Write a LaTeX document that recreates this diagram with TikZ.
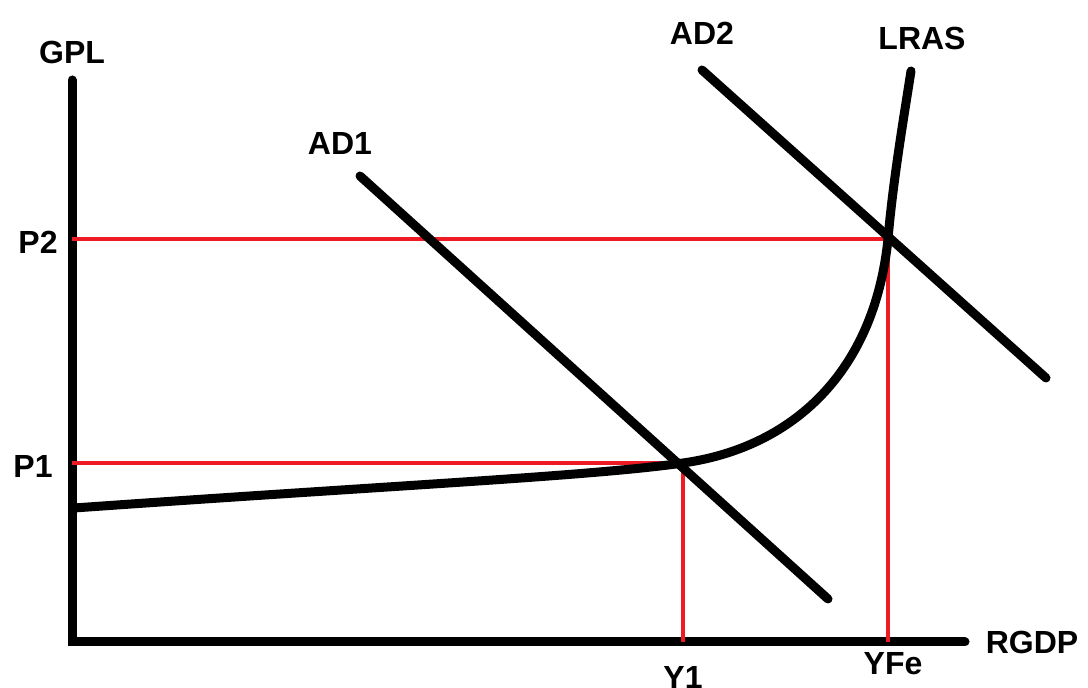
\documentclass[tikz,border=0pt]{standalone}
\usepackage{fontspec}
\setmainfont{Liberation Sans}
\usetikzlibrary{positioning, calc}
\definecolor{axisred}{RGB}{237,28,36}

\begin{document}
\begin{tikzpicture}[
        x=0.5pt, y=-0.5pt,
        lbl/.style={font=\fontsize{16}{18}\selectfont\bfseries, inner sep=0pt},
        axis/.style={line width=4.5pt, line cap=round},
        curve/.style={line width=4.5pt, line cap=round},
        guide/.style={draw=axisred, line width=2pt},
    ]
    \useasboundingbox (0,0) rectangle (1088,688);

    % ===== Axes =====
    \coordinate (O) at (72,642);
    \coordinate (Ytop) at (72,80);
    \coordinate (Xend) at (965,642);
    \draw[axis] (Ytop) -- (O) -- (Xend);
    \node[lbl] (GPL) at (72,52) {GPL};
    \node[lbl] (RGDP) at (1032,642) {RGDP};

    % ===== Equilibrium points =====
    \coordinate (E1) at (683,463);
    \coordinate (E2) at (888,239);
    \coordinate (P1ax) at (O |- E1);
    \coordinate (P2ax) at (O |- E2);
    \coordinate (Y1ax) at (O -| E1);
    \coordinate (YFax) at (O -| E2);

    % ===== Red guide lines =====
    \draw[guide] (P2ax) -- (E2) -- (YFax);
    \draw[guide] (P1ax) -- (E1) -- (Y1ax);
    \node[lbl] (P2) at (38,242) {P2};
    \node[lbl] (P1) at (33,466) {P1};
    \node[lbl] (Y1) at (683,677) {Y1};
    \node[lbl] (YFe) at (893,664) {YFe};

    % ===== AD curves =====
    \coordinate (AD1a) at (360,176);
    \coordinate (AD1b) at (828,599);
    \coordinate (AD2a) at (702,70);
    \coordinate (AD2b) at (1046,378);
    \draw[curve] (AD1a) -- (AD1b);
    \draw[curve] (AD2a) -- (AD2b);
    \node[lbl] (AD1) at (340,144) {AD1};
    \node[lbl] (AD2) at (702,33) {AD2};

    % ===== LRAS =====
    \coordinate (Lstart) at (74,508);
    \coordinate (Ltop) at (911,71);
    \draw[curve] (Lstart) .. controls (400,485) and (593,476) .. (E1)
        .. controls (790,448) and (874,375) .. (E2)
        .. controls (893,180) and (905,110) .. (Ltop);
    \node[lbl] (LRAS) at (922,38) {LRAS};

\end{tikzpicture}
\end{document}
